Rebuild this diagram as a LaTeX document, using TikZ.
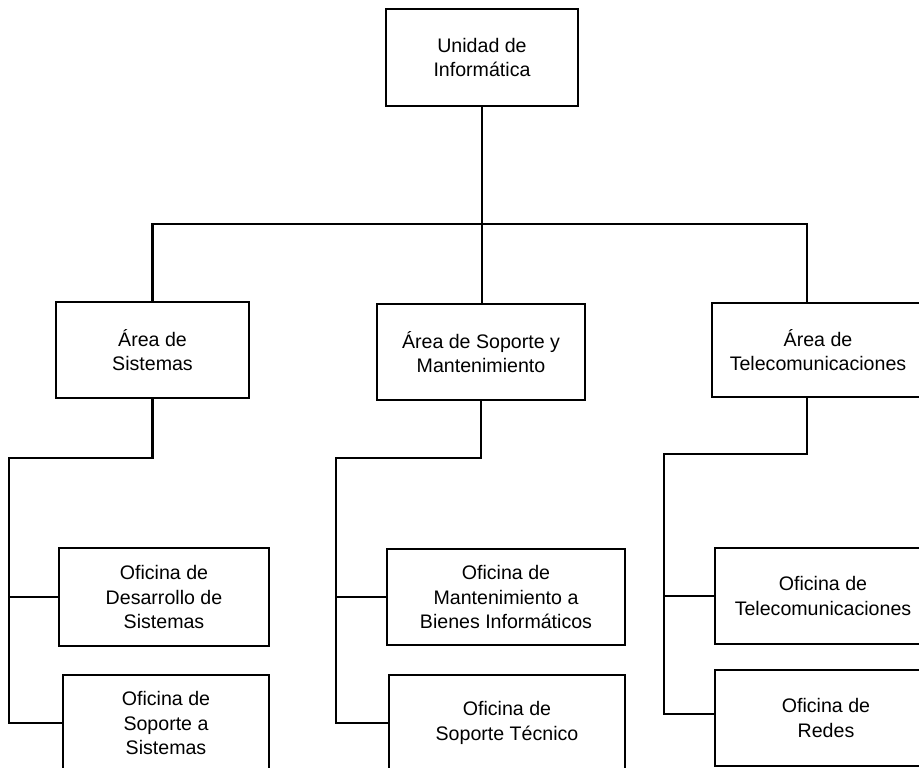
\documentclass[tikz,border=0pt]{standalone}
\usepackage{fontspec}
\setmainfont{Liberation Sans}
\usetikzlibrary{positioning}
\tikzset{
box/.style={draw, line width=2.6pt, align=center, inner sep=0pt, minimum height=96pt,
  font=\fontsize{19.6}{24.5}\selectfont},
link/.style={line width=2.2pt}
}

\begin{document}
\begin{tikzpicture}[x=1pt,y=-1pt]
\clip (0,0) rectangle (919,768);

\node[box, minimum width=192pt, minimum height=97pt] (unidad) at (482,57.5) {Unidad de\\Informática};

\node[box, minimum width=193pt] (sistemas) at (152.5,350) {Área de\\Sistemas};
\node[box, minimum width=208pt] (soporte) at (481,352) {Área de Soporte y\\Mantenimiento};
\node[box, minimum width=212pt, minimum height=94pt] (telecom) at (818,350) {Área de\\Telecomunicaciones};

\node[box, minimum width=210pt, minimum height=98pt] (desarrollo) at (164,597) {Oficina de\\Desarrollo de\\Sistemas};
\node[box, minimum width=206pt] (sopsis) at (166,723) {Oficina de\\Soporte a\\Sistemas};
\node[box, minimum width=238pt] (manten) at (506,597) {Oficina de\\Mantenimiento a\\Bienes Informáticos};
\node[box, minimum width=236pt] (soptec) at (507,723) {Oficina de\\Soporte Técnico};
\node[box, minimum width=216pt] (ofitel) at (823,596) {Oficina de\\Telecomunicaciones};
\node[box, minimum width=222pt] (redes) at (826,718) {Oficina de\\Redes};

\coordinate (bus) at (482,224);
\coordinate (sisrail) at (9,458);
\coordinate (soprail) at (336,458);
\coordinate (telrail) at (664,454);

\draw[link] (unidad.south) -- (unidad.south |- soporte.north);
\draw[link] (sistemas.north) |- (bus) -| ([xshift=-11pt]telecom.north);

\draw[link] (sistemas.south) |- (sisrail) |- (sopsis.west);
\draw[link] (sisrail |- desarrollo.west) -- (desarrollo.west);

\draw[link] (soporte.south) |- (soprail) |- (soptec.west);
\draw[link] (soprail |- manten.west) -- (manten.west);

\draw[link] ([xshift=-11pt]telecom.south) |- (telrail) |- ([yshift=4pt]redes.west);
\draw[link] (telrail |- ofitel.west) -- (ofitel.west);
\end{tikzpicture}
\end{document}
